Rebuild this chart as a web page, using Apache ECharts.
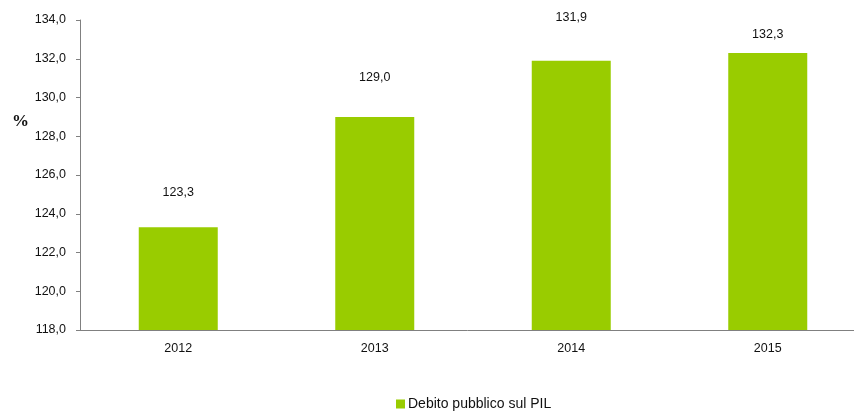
<!DOCTYPE html>
<html>
<head>
<meta charset="utf-8">
<script src="https://cdn.jsdelivr.net/npm/echarts@6/dist/echarts.min.js"></script>
<style>
  html, body { margin: 0; padding: 0; background: #fff; }
  #chart { width: 854px; height: 412px; }
</style>
</head>
<body>
<div id="chart"></div>
<script>
  // dati
  var anni = ['2012', '2013', '2014', '2015'];
  var debitoPil = [123.3, 129.0, 131.9, 132.3];
  var nomeSerie = 'Debito pubblico sul PIL';

  // distanza etichetta-barra (come nell'originale, non uniforme)
  var distanzeEtichette = [28, 33, 37, 12];

  var fmt = function (v) { return Number(v).toFixed(1).replace('.', ','); };

  var myChart = echarts.init(document.getElementById('chart'));
  myChart.setOption({
    animation: false,
    textStyle: { fontFamily: 'Liberation Sans, Arial, sans-serif' },
    grid: { left: 80, width: 786, top: 20, height: 310, containLabel: false, outerBoundsMode: 'none' },
    legend: {
      data: [nomeSerie],
      left: 396,
      top: 396,
      padding: 0,
      itemWidth: 9,
      itemHeight: 9,
      icon: 'rect',
      textStyle: { fontSize: 14, lineHeight: 16, color: '#111', fontFamily: 'Liberation Sans, Arial, sans-serif', padding: [0, 0, 0, -2] }
    },
    graphic: [{
      type: 'text',
      left: 12,
      top: 113,
      style: { text: '%', fontSize: 17, fontWeight: 'bold', fontFamily: 'Liberation Serif, Times New Roman, serif', fill: '#111' }
    }],
    xAxis: {
      type: 'category',
      data: anni,
      axisLine: { lineStyle: { color: '#808080', width: 1 } },
      axisTick: { show: false },
      axisLabel: { color: '#111', fontSize: 12.5, margin: 12 }
    },
    yAxis: {
      type: 'value',
      min: 118,
      max: 134,
      interval: 2,
      splitLine: { show: false },
      axisLine: { show: true, lineStyle: { color: '#808080', width: 1 } },
      axisTick: { show: true, length: 4, lineStyle: { color: '#808080' } },
      axisLabel: { color: '#111', fontSize: 12.5, margin: 14, formatter: fmt }
    },
    series: [{
      name: nomeSerie,
      type: 'bar',
      barWidth: 79,
      itemStyle: { color: '#99cc00' },
      data: debitoPil.map(function (v, i) {
        return {
          value: v,
          label: {
            show: true,
            position: 'top',
            distance: distanzeEtichette[i],
            color: '#111',
            fontSize: 12.5,
            formatter: function (p) { return fmt(p.value); }
          }
        };
      })
    }]
  });
</script>
</body>
</html>
